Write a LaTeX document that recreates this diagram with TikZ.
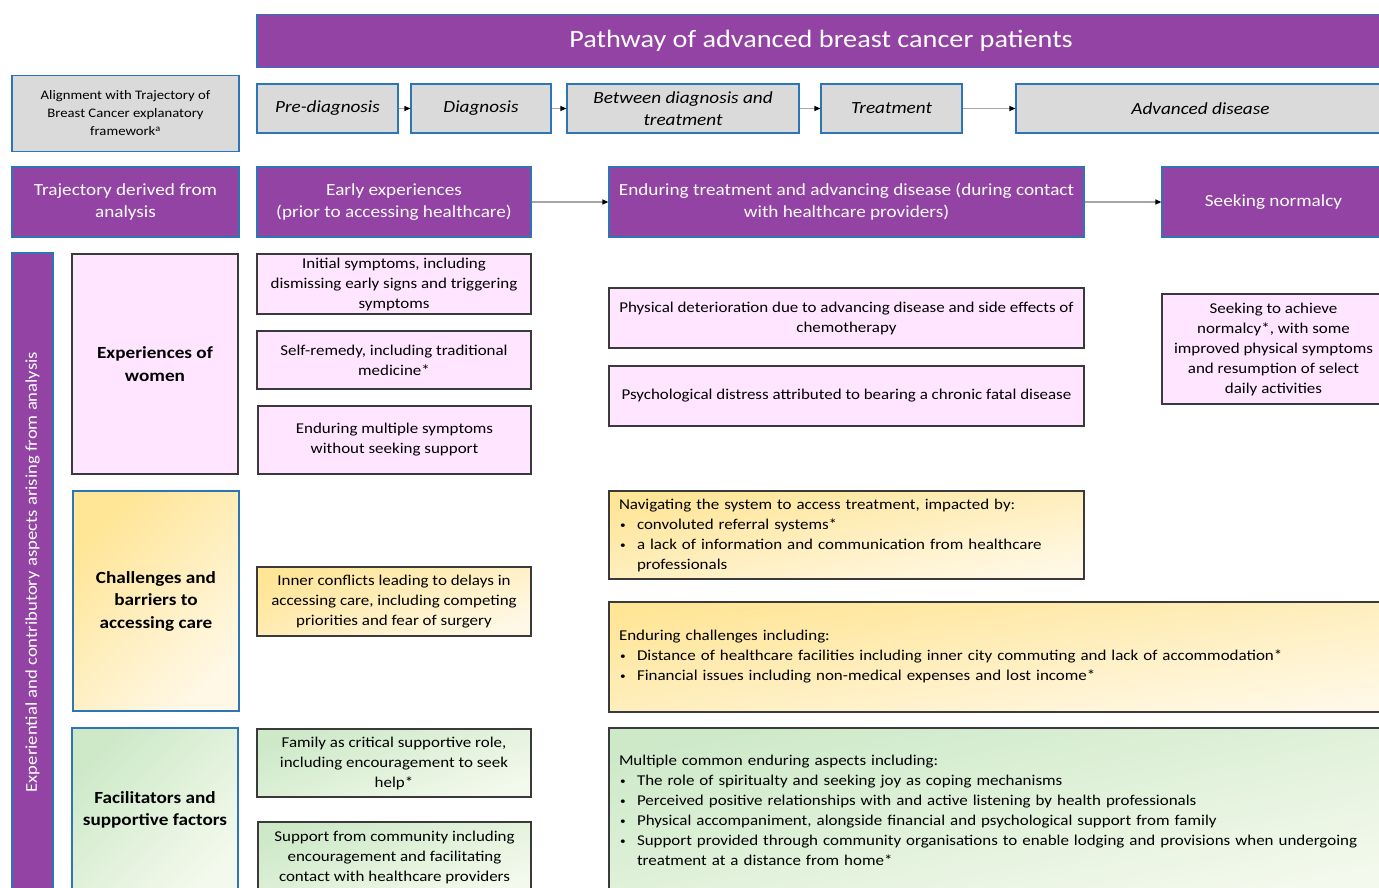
\documentclass[tikz,border=0pt]{standalone}
\usepackage{fontspec}
\setmainfont{Carlito}[FakeStretch=1.13]
\usetikzlibrary{arrows.meta}
\definecolor{purp}{HTML}{9343A3}
\definecolor{bord}{HTML}{2E75B6}
\definecolor{gfill}{HTML}{DADADA}
\definecolor{pinkf}{HTML}{FFE5FF}
\definecolor{dkb}{HTML}{3A3A3A}
\definecolor{yelA}{HTML}{FFE596}
\definecolor{yelB}{HTML}{FFF8E6}
\definecolor{grnA}{HTML}{CDE9C8}
\definecolor{grnB}{HTML}{F3F9EC}
\definecolor{arr}{HTML}{A6A6A6}
\newcommand{\bul}{\makebox[18pt][l]{\hspace{1pt}\raisebox{1pt}{\fontsize{10}{10}\selectfont\textbullet}}}
\newcommand{\hang}{\hspace*{18pt}}
\begin{document}
\begin{tikzpicture}[x=1pt,y=-1pt,
 base/.style={rectangle, inner sep=0pt, align=center, line width=1.2pt},
 purpbox/.style={base, fill=purp, draw=bord, text=white, font=\fontsize{17}{22}\selectfont},
 phasebox/.style={base, fill=gfill, draw=bord, font=\fontsize{17}{22}\selectfont\itshape},
 pinkbox/.style={base, fill=pinkf, draw=dkb, font=\fontsize{15}{20}\selectfont},
 yelbox/.style={base, draw=dkb, top color=yelA, bottom color=yelB, shading angle=#1, font=\fontsize{15}{20}\selectfont},
 yelbox/.default=20,
 grnbox/.style={base, draw=dkb, top color=grnA, bottom color=grnB, shading angle=#1, font=\fontsize{15}{20}\selectfont},
 grnbox/.default=20,
 catfont/.style={font=\fontsize{17}{22.5}\selectfont\bfseries},
 flow/.style={draw=arr, line width=1.2pt, -{Triangle[color=black,length=6pt,width=5pt]}}
]
\useasboundingbox (0,0) rectangle (1379,887);
\clip (0,0) rectangle (1379,887);
\fill[white] (0,0) rectangle (1379,887);

% title
\node[purpbox, minimum width=1128, minimum height=53, font=\fontsize{25}{30}\selectfont] (title) at (821,41) {Pathway of advanced breast cancer patients};

% row 1
\node[base, fill=gfill, draw=bord, minimum width=227, minimum height=76, font=\fontsize{13}{18}\selectfont] (align) at (125.5,113.5) {Alignment with Trajectory of\\Breast Cancer explanatory\\framework\textsuperscript{a}};
\node[phasebox, minimum width=141, minimum height=49] (pre) at (327.5,108.5) {Pre-diagnosis};
\node[phasebox, minimum width=140, minimum height=49] (diag) at (481,108.5) {Diagnosis};
\node[phasebox, minimum width=232, minimum height=49] (betw) at (683,108.5) {Between diagnosis and\\treatment};
\node[phasebox, minimum width=141, minimum height=49] (treat) at (891.5,108.5) {Treatment};
\node[phasebox, minimum width=369, minimum height=49] (adv) at (1200.5,108.5) {Advanced disease};
\draw[flow] (pre) -- (diag);
\draw[flow] (diag) -- (betw);
\draw[flow] (betw) -- (treat);
\draw[flow] (treat) -- (adv);

% row 2
\node[purpbox, minimum width=227, minimum height=70] (traj) at (125.5,202) {Trajectory derived from\\analysis};
\node[purpbox, minimum width=274, minimum height=70] (early) at (394,202) {Early experiences\\(prior to accessing healthcare)};
\node[purpbox, minimum width=475, minimum height=70] (endur) at (846.5,202) {Enduring treatment and advancing disease (during contact\\with healthcare providers)};
\node[purpbox, minimum width=223, minimum height=70] (seek) at (1273.5,202) {Seeking normalcy};
\draw[flow] (early) -- (endur);
\draw[flow] (endur) -- (seek);

% vertical bar
\node[purpbox, rotate=90, minimum width=638, minimum height=41, font=\fontsize{16.5}{20}\selectfont] (vbar) at (32.5,572) {Experiential and contributory aspects arising from analysis};

% experiences of women
\node[pinkbox, catfont, minimum width=166, minimum height=220] (women) at (155,364) {Experiences of\\women};
\node[pinkbox, minimum width=274, minimum height=60] (init) at (394,284) {Initial symptoms, including\\dismissing early signs and triggering\\symptoms};
\node[pinkbox, minimum width=274, minimum height=58] (self) at (394,360) {Self-remedy, including traditional\\medicine*};
\node[pinkbox, minimum width=273, minimum height=68] (multi) at (394.5,440) {Enduring multiple symptoms\\without seeking support};
\node[pinkbox, minimum width=475, minimum height=60] (phys) at (846.5,318) {Physical deterioration due to advancing disease and side effects of\\chemotherapy};
\node[pinkbox, minimum width=475, minimum height=60] (psych) at (846.5,396) {Psychological distress attributed to bearing a chronic fatal disease};
\node[pinkbox, minimum width=223, minimum height=110] (seekach) at (1273.5,349) {Seeking to achieve\\normalcy*, with some\\improved physical symptoms\\and resumption of select\\daily activities};

% challenges
\node[yelbox=45, draw=bord, catfont, minimum width=166, minimum height=220] (chal) at (156,601) {Challenges and\\barriers to\\accessing care};
\node[yelbox=20, minimum width=274, minimum height=69] (inner) at (394,601.5) {Inner conflicts leading to delays in\\accessing care, including competing\\priorities and fear of surgery};
\node[yelbox=10, minimum width=475, minimum height=88, text width=455, align=left] (navig) at (846.5,535) {Navigating the system to access treatment, impacted by:\\
\bul convoluted referral systems*\\
\bul a lack of information and communication from healthcare\\
\hang professionals};
\node[yelbox=8, minimum width=776, minimum height=110, text width=756, align=left] (endchal) at (997,657) {Enduring challenges including:\\
\bul Distance of healthcare facilities including inner city commuting and lack of accommodation*\\
\bul Financial issues including non-medical expenses and lost income*};

% facilitators
\node[grnbox=45, draw=bord, catfont, minimum width=166, minimum height=164] (facil) at (155,810) {Facilitators and\\supportive factors};
\node[grnbox=20, minimum width=274, minimum height=68] (family) at (394,763) {Family as critical supportive role,\\including encouragement to seek\\help*};
\node[grnbox=20, minimum width=273, minimum height=70] (comm) at (394.5,857) {Support from community including\\encouragement and facilitating\\contact with healthcare providers};
\node[grnbox=12, minimum width=776, minimum height=164, text width=756, align=left] (mult) at (997,810) {Multiple common enduring aspects including:\\
\bul The role of spiritualty and seeking joy as coping mechanisms\\
\bul Perceived positive relationships with and active listening by health professionals\\
\bul Physical accompaniment, alongside financial and psychological support from family\\
\bul Support provided through community organisations to enable lodging and provisions when undergoing\\
\hang treatment at a distance from home*};
\end{tikzpicture}
\end{document}
